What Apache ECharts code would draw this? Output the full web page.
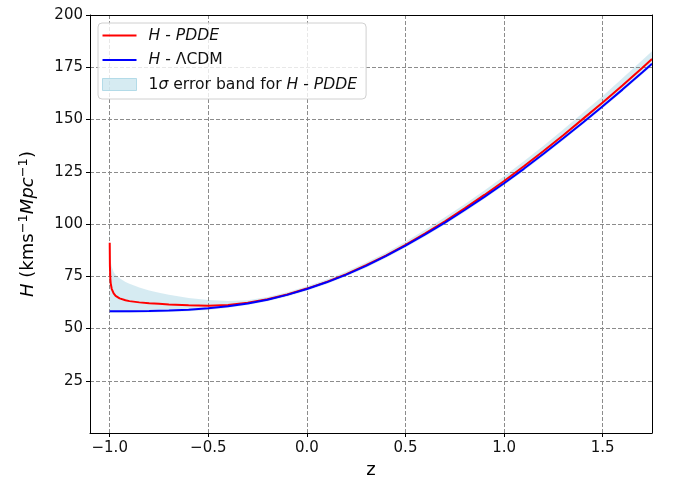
<!DOCTYPE html>
<html>
<head>
<meta charset="utf-8">
<script src="https://cdn.jsdelivr.net/npm/echarts@6/dist/echarts.min.js"></script>
<style>
  html, body { margin: 0; padding: 0; background: #fff; }
  #chart { width: 673px; height: 487px; }
</style>
</head>
<body>
<div id="chart"></div>
<script>
// Redshift samples for the PDDE curve and its 1-sigma band (dense near z = -1)
const zPDDE = [-1.0, -0.999, -0.997, -0.995, -0.99, -0.98, -0.97, -0.95, -0.92, -0.9,
  -0.85, -0.8, -0.75, -0.7, -0.6, -0.5, -0.4, -0.3, -0.2, -0.1,
  0.0, 0.1, 0.2, 0.3, 0.4, 0.5, 0.6, 0.7, 0.8, 0.9,
  1.0, 1.1, 1.2, 1.3, 1.4, 1.5, 1.6, 1.7, 1.75];

// H(z) for the PDDE model
const hPDDE = [91.0, 80.0, 74.0, 71.6, 69.0, 66.8, 65.6, 64.4, 63.5, 63.1,
  62.5, 62.1, 61.8, 61.5, 61.1, 60.9, 61.3, 62.3, 64.0, 66.3,
  69.1, 72.3, 76.0, 80.3, 84.9, 90.0, 95.5, 101.3, 107.5, 113.9,
  120.6, 127.6, 134.9, 142.5, 150.3, 158.1, 166.3, 174.6, 178.9];

// 1-sigma band limits for the PDDE model
const bandLow = [57.5, 57.5, 57.5, 57.5, 57.5, 57.5, 57.5, 57.5, 57.6, 57.6,
  57.6, 57.7, 57.8, 57.9, 58.3, 58.9, 59.9, 61.2, 63.0, 65.3,
  68.1, 71.3, 75.0, 79.1, 83.7, 88.7, 94.1, 99.8, 105.8, 112.1,
  118.6, 125.5, 132.7, 140.1, 147.7, 155.4, 163.4, 171.5, 175.7];
const bandHigh = [118.0, 96.0, 86.0, 82.0, 79.5, 77.0, 75.6, 74.0, 72.3, 71.4,
  69.6, 68.2, 67.1, 66.1, 64.6, 63.6, 63.2, 63.5, 65.1, 67.4,
  70.2, 73.5, 77.3, 81.6, 86.3, 91.5, 97.2, 103.2, 109.5, 116.0,
  122.8, 130.0, 137.5, 145.2, 153.2, 161.3, 169.7, 178.3, 182.7];

// Redshift samples and H(z) for LambdaCDM
const zLCDM = [-1.0, -0.9, -0.8, -0.7, -0.6, -0.5, -0.4, -0.3, -0.2, -0.1,
  0.0, 0.1, 0.2, 0.3, 0.4, 0.5, 0.6, 0.7, 0.8, 0.9,
  1.0, 1.1, 1.2, 1.3, 1.4, 1.5, 1.6, 1.7, 1.75];
const hLCDM = [58.2, 58.3, 58.4, 58.6, 59.0, 59.7, 60.7, 62.0, 63.8, 66.1,
  68.9, 72.1, 75.8, 80.0, 84.6, 89.6, 95.0, 100.7, 106.7, 113.0,
  119.5, 126.4, 133.6, 141.0, 148.6, 156.3, 164.3, 172.5, 176.7];

// Axis ticks
const xTicks = [-1.0, -0.5, 0.0, 0.5, 1.0, 1.5];
const yTicks = [25, 50, 75, 100, 125, 150, 175, 200];
const xGrid = [-1.0, -0.5, 0.0, 0.5, 1.0, 1.5];
const yGrid = [25, 50, 75, 100, 125, 150, 175];

const NAME_PDDE = 'H - PDDE';
const NAME_LCDM = 'H - \u039BCDM';
const NAME_BAND = '1\u03C3 error band for H - PDDE';

const FONT = 'DejaVu Sans';
const BAND_FILL = 'rgba(173,216,230,0.5)';
const pairs = (xs, ys) => xs.map((x, i) => [x, ys[i]]);
const fmtX = v => v.toFixed(1).replace('-', '\u2212');

// legend handle: a 2px horizontal stroke inside a 34x12 box
const LINE_ICON = 'path://M0,0L0.01,0L0.01,0.01ZM33.99,12L34,12L34,11.99ZM0,5L34,5L34,7L0,7Z';

const chart = echarts.init(document.getElementById('chart'), null, { renderer: 'canvas' });

const spine = { color: '#000', width: 1 };
const gridLine = { color: '#8c8c8c', width: 1, type: [4, 2] };

const legendText = {
  [NAME_PDDE]: '{g| }{i|H} - {i|PDDE}',
  [NAME_LCDM]: '{g| }{i|H} - \u039BCDM',
  [NAME_BAND]: '{g| }1{i|\u03C3} error band for {i|H} - {i|PDDE}'
};

const option = {
  animation: false,
  backgroundColor: '#fff',
  grid: { left: 90, right: 21, top: 15, bottom: 54, containLabel: false, outerBoundsMode: 'none' },
  legend: {
    orient: 'vertical',
    left: 98, top: 23,
    backgroundColor: 'rgba(255,255,255,0.8)',
    borderColor: '#d0d0d0', borderWidth: 1, borderRadius: 4,
    padding: [4, 9, 6, 4],
    itemWidth: 34, itemHeight: 12, itemGap: 7.5,
    textStyle: {
      fontFamily: FONT, fontSize: 15.6, color: '#111', lineHeight: 17,
      rich: {
        g: { width: 7 },
        i: { fontFamily: FONT, fontSize: 15.6, fontStyle: 'italic', color: '#111' }
      }
    },
    formatter: name => legendText[name],
    data: [
      { name: NAME_PDDE, icon: LINE_ICON, itemStyle: { color: '#ff0000' } },
      { name: NAME_LCDM, icon: LINE_ICON, itemStyle: { color: '#0000ff' } },
      { name: NAME_BAND, icon: 'rect', itemStyle: { color: BAND_FILL, borderColor: 'rgba(173,216,230,0.9)', borderWidth: 1 } }
    ]
  },
  xAxis: [
    {
      type: 'value', min: -1.1, max: 1.75, position: 'bottom', z: 10,
      name: 'z', nameLocation: 'middle', nameGap: 28,
      nameTextStyle: { fontFamily: FONT, fontSize: 18, color: '#000' },
      axisLine: { show: true, onZero: false, lineStyle: spine },
      axisTick: { show: true, length: 4, customValues: xTicks, lineStyle: spine },
      axisLabel: { customValues: xTicks, formatter: fmtX, margin: 8, fontFamily: FONT, fontSize: 15, color: '#111' },
      splitLine: { show: false }
    },
    {
      type: 'value', min: -1.1, max: 1.75, position: 'top', z: 10,
      axisLine: { show: true, onZero: false, lineStyle: spine },
      axisTick: { show: false }, axisLabel: { show: false }, splitLine: { show: false }
    }
  ],
  yAxis: [
    {
      type: 'value', min: 0, max: 200, interval: 25, position: 'left', z: 10,
      name: '{i|H} (kms{s|\u22121}{i|Mpc}{s|\u22121})',
      nameLocation: 'middle', nameRotate: 90, nameGap: 50,
      nameTextStyle: {
        fontFamily: FONT, fontSize: 18, color: '#000',
        rich: {
          i: { fontFamily: FONT, fontSize: 18, fontStyle: 'italic', color: '#000' },
          s: { fontFamily: FONT, fontSize: 13, color: '#000', padding: [0, 0, 10, 0] }
        }
      },
      axisLine: { show: true, onZero: false, lineStyle: spine },
      axisTick: { show: true, length: 4, customValues: yTicks, lineStyle: spine },
      axisLabel: { customValues: yTicks, margin: 7, fontFamily: FONT, fontSize: 15, color: '#111' },
      splitLine: { show: false }
    },
    {
      type: 'value', min: 0, max: 200, position: 'right', z: 10,
      axisLine: { show: true, onZero: false, lineStyle: spine },
      axisTick: { show: false }, axisLabel: { show: false }, splitLine: { show: false }
    }
  ],
  series: [
    {
      // shaded 1-sigma band, drawn as one polygon through the axis scales
      type: 'custom',
      name: NAME_BAND,
      z: 1,
      silent: true,
      encode: { x: 0, y: [1, 2] },
      data: zPDDE.map((z, i) => [z, bandLow[i], bandHigh[i]]),
      renderItem: (params, api) => {
        if (params.dataIndex !== 0) return null;
        const upper = zPDDE.map((z, i) => api.coord([z, bandHigh[i]]));
        const lower = zPDDE.map((z, i) => api.coord([z, bandLow[i]])).reverse();
        return {
          type: 'polygon',
          shape: { points: upper.concat(lower) },
          style: { fill: BAND_FILL, stroke: null }
        };
      },
      itemStyle: { color: BAND_FILL },
      markLine: {
        silent: true, z: 2, symbol: ['none', 'none'],
        label: { show: false },
        lineStyle: gridLine,
        data: xGrid.map(v => ({ xAxis: v })).concat(yGrid.map(v => ({ yAxis: v })))
      }
    },
    {
      type: 'line', name: NAME_PDDE, z: 3,
      data: pairs(zPDDE, hPDDE),
      symbol: 'none', smooth: false,
      lineStyle: { color: '#ff0000', width: 2 },
      itemStyle: { color: '#ff0000' }
    },
    {
      type: 'line', name: NAME_LCDM, z: 4,
      data: pairs(zLCDM, hLCDM),
      symbol: 'none', smooth: false,
      lineStyle: { color: '#0000ff', width: 2 },
      itemStyle: { color: '#0000ff' }
    }
  ]
};

chart.setOption(option);
</script>
</body>
</html>
